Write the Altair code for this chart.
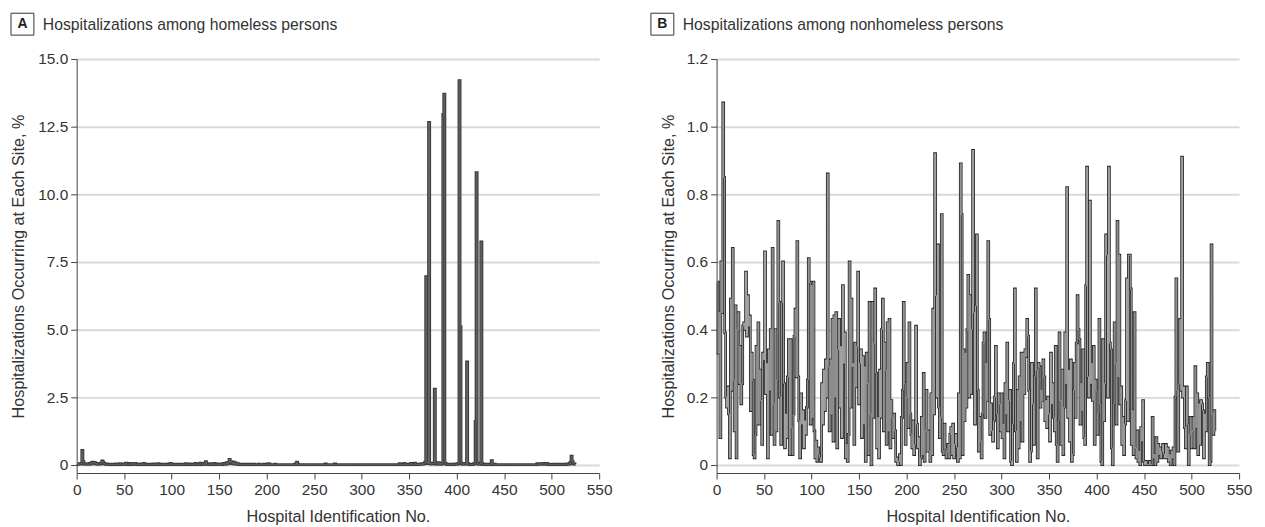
import altair as alt
import pandas as pd

FONT = "Liberation Sans"

hospital_ids = list(range(1, 526))

# Panel A: % of homeless-person hospitalizations at each site
homeless_pct = [
    0.03, 0.02, 0.04, 0.03, 0.05, 0.53, 0.12, 0.04, 0.03, 0.02, 0.04, 0.03, 0.02, 0.05, 0.03, 0.08, 0.10, 0.06, 0.09, 0.04, 0.03, 0.05, 0.02, 0.03, 0.04,
    0.06, 0.14, 0.10, 0.05, 0.03, 0.02, 0.03, 0.02, 0.01, 0.02, 0.02, 0.01, 0.02, 0.02, 0.01, 0.02, 0.03, 0.02, 0.01, 0.02, 0.04, 0.02, 0.01, 0.02, 0.02,
    0.03, 0.06, 0.02, 0.01, 0.02, 0.05, 0.02, 0.01, 0.04, 0.02, 0.02, 0.05, 0.02, 0.01, 0.02, 0.01, 0.02, 0.03, 0.02, 0.01, 0.05, 0.02, 0.01, 0.02, 0.01,
    0.02, 0.01, 0.02, 0.01, 0.02, 0.03, 0.01, 0.02, 0.01, 0.02, 0.04, 0.02, 0.01, 0.02, 0.01, 0.02, 0.01, 0.02, 0.01, 0.02, 0.01, 0.03, 0.02, 0.05, 0.02,
    0.01, 0.02, 0.01, 0.02, 0.01, 0.02, 0.01, 0.01, 0.02, 0.01, 0.02, 0.01, 0.02, 0.01, 0.04, 0.02, 0.01, 0.02, 0.03, 0.02, 0.01, 0.02, 0.01, 0.02, 0.05,
    0.02, 0.01, 0.02, 0.03, 0.06, 0.02, 0.01, 0.05, 0.02, 0.04, 0.12, 0.03, 0.02, 0.01, 0.04, 0.02, 0.01, 0.02, 0.03, 0.05, 0.02, 0.01, 0.02, 0.03, 0.02,
    0.03, 0.02, 0.01, 0.02, 0.05, 0.02, 0.03, 0.08, 0.04, 0.06, 0.20, 0.09, 0.12, 0.05, 0.04, 0.10, 0.03, 0.06, 0.02, 0.04, 0.02, 0.01, 0.02, 0.01, 0.02,
    0.01, 0.02, 0.01, 0.01, 0.02, 0.01, 0.01, 0.02, 0.01, 0.01, 0.01, 0.02, 0.01, 0.01, 0.01, 0.01, 0.02, 0.01, 0.01, 0.01, 0.01, 0.02, 0.01, 0.01, 0.01,
    0.02, 0.04, 0.02, 0.01, 0.01, 0.01, 0.01, 0.01, 0.02, 0.01, 0.01, 0.01, 0.01, 0.01, 0.01, 0.01, 0.01, 0.01, 0.01, 0.01, 0.01, 0.01, 0.01, 0.01, 0.01,
    0.01, 0.01, 0.01, 0.01, 0.02, 0.03, 0.10, 0.02, 0.01, 0.01, 0.01, 0.01, 0.01, 0.01, 0.01, 0.01, 0.01, 0.01, 0.01, 0.01, 0.01, 0.01, 0.01, 0.01, 0.01,
    0.01, 0.01, 0.01, 0.01, 0.01, 0.01, 0.01, 0.01, 0.01, 0.01, 0.01, 0.03, 0.01, 0.01, 0.01, 0.01, 0.01, 0.01, 0.01, 0.01, 0.01, 0.03, 0.01, 0.01, 0.01,
    0.01, 0.01, 0.01, 0.01, 0.01, 0.01, 0.01, 0.01, 0.01, 0.01, 0.01, 0.01, 0.01, 0.01, 0.01, 0.01, 0.01, 0.01, 0.01, 0.01, 0.01, 0.01, 0.01, 0.01, 0.01,
    0.01, 0.01, 0.01, 0.01, 0.01, 0.01, 0.01, 0.01, 0.01, 0.01, 0.01, 0.01, 0.01, 0.01, 0.01, 0.01, 0.01, 0.01, 0.01, 0.01, 0.01, 0.01, 0.01, 0.01, 0.01,
    0.01, 0.01, 0.01, 0.01, 0.01, 0.01, 0.01, 0.01, 0.01, 0.01, 0.01, 0.01, 0.01, 0.01, 0.04, 0.02, 0.01, 0.01, 0.01, 0.05, 0.02, 0.01, 0.01, 0.01, 0.02,
    0.02, 0.05, 0.02, 0.01, 0.02, 0.06, 0.02, 0.01, 0.02, 0.01, 0.02, 0.03, 0.02, 0.04, 0.03, 0.05, 0.10, 6.95, 0.08, 0.05, 12.65, 0.06, 0.03, 0.05, 0.04,
    0.06, 2.80, 0.05, 0.02, 0.04, 0.08, 0.03, 0.05, 0.02, 0.06, 12.95, 13.70, 0.06, 0.03, 0.02, 0.01, 0.02, 0.01, 0.02, 0.01, 0.02, 0.01, 0.02, 0.03, 0.02,
    0.03, 0.05, 14.20, 5.10, 0.06, 0.03, 0.02, 0.04, 0.03, 0.05, 3.80, 0.04, 0.02, 0.01, 0.02, 0.01, 0.02, 0.03, 0.05, 1.60, 10.80, 0.06, 0.03, 0.02, 0.04,
    8.24, 0.05, 0.02, 0.01, 0.02, 0.01, 0.02, 0.01, 0.02, 0.01, 0.03, 0.15, 0.02, 0.01, 0.02, 0.01, 0.01, 0.01, 0.01, 0.01, 0.01, 0.01, 0.01, 0.01, 0.01,
    0.01, 0.01, 0.01, 0.01, 0.01, 0.01, 0.01, 0.01, 0.01, 0.01, 0.01, 0.01, 0.01, 0.01, 0.01, 0.01, 0.01, 0.01, 0.01, 0.01, 0.01, 0.01, 0.01, 0.01, 0.01,
    0.01, 0.01, 0.01, 0.01, 0.01, 0.01, 0.01, 0.01, 0.01, 0.04, 0.03, 0.02, 0.04, 0.03, 0.02, 0.05, 0.03, 0.02, 0.04, 0.05, 0.02, 0.01, 0.02, 0.01, 0.02,
    0.01, 0.02, 0.01, 0.02, 0.01, 0.02, 0.01, 0.02, 0.01, 0.02, 0.01, 0.02, 0.01, 0.02, 0.01, 0.02, 0.03, 0.02, 0.05, 0.10, 0.32, 0.12, 0.04, 0.03, 0.02,
]

# Panel B: % of nonhomeless-person hospitalizations at each site
nonhomeless_pct = [
    0.54, 0.33, 0.45, 0.08, 0.60, 0.45, 1.07, 0.85, 0.39, 0.20,
    0.17, 0.23, 0.15, 0.02, 0.49, 0.22, 0.64, 0.25, 0.10, 0.47,
    0.02, 0.40, 0.45, 0.24, 0.35, 0.18, 0.24, 0.41, 0.42, 0.40,
    0.57, 0.38, 0.50, 0.41, 0.44, 0.16, 0.33, 0.25, 0.03, 0.02,
    0.09, 0.35, 0.12, 0.42, 0.12, 0.28, 0.19, 0.06, 0.33, 0.31,
    0.63, 0.21, 0.30, 0.02, 0.34, 0.22, 0.40, 0.09, 0.64, 0.18,
    0.06, 0.40, 0.10, 0.25, 0.72, 0.48, 0.20, 0.06, 0.48, 0.60,
    0.24, 0.05, 0.15, 0.08, 0.26, 0.37, 0.03, 0.37, 0.11, 0.03,
    0.15, 0.38, 0.46, 0.26, 0.66, 0.26, 0.13, 0.02, 0.21, 0.12,
    0.16, 0.05, 0.13, 0.09, 0.17, 0.25, 0.61, 0.54, 0.12, 0.53,
    0.14, 0.54, 0.10, 0.02, 0.07, 0.01, 0.05, 0.03, 0.02, 0.01,
    0.24, 0.12, 0.28, 0.16, 0.31, 0.20, 0.86, 0.29, 0.10, 0.31,
    0.15, 0.43, 0.07, 0.44, 0.20, 0.45, 0.05, 0.34, 0.43, 0.17,
    0.35, 0.08, 0.53, 0.30, 0.39, 0.02, 0.06, 0.01, 0.09, 0.60,
    0.17, 0.49, 0.29, 0.30, 0.06, 0.36, 0.23, 0.35, 0.57, 0.18,
    0.30, 0.34, 0.08, 0.32, 0.12, 0.29, 0.01, 0.33, 0.24, 0.03,
    0.48, 0.15, 0.00, 0.48, 0.14, 0.36, 0.52, 0.27, 0.05, 0.14,
    0.02, 0.28, 0.14, 0.40, 0.49, 0.10, 0.36, 0.28, 0.06, 0.42,
    0.10, 0.43, 0.05, 0.19, 0.14, 0.08, 0.15, 0.10, 0.01, 0.02,
    0.00, 0.01, 0.03, 0.00, 0.14, 0.22, 0.48, 0.24, 0.06, 0.20,
    0.30, 0.11, 0.42, 0.15, 0.09, 0.05, 0.13, 0.03, 0.06, 0.41,
    0.12, 0.05, 0.08, 0.00, 0.02, 0.14, 0.03, 0.27, 0.01, 0.10,
    0.22, 0.04, 0.10, 0.04, 0.01, 0.21, 0.03, 0.46, 0.15, 0.92,
    0.50, 0.20, 0.65, 0.17, 0.08, 0.14, 0.74, 0.04, 0.03, 0.12,
    0.05, 0.02, 0.04, 0.06, 0.02, 0.09, 0.11, 0.03, 0.12, 0.02,
    0.06, 0.09, 0.05, 0.01, 0.21, 0.02, 0.89, 0.74, 0.03, 0.34,
    0.13, 0.33, 0.17, 0.40, 0.56, 0.20, 0.50, 0.21, 0.40, 0.93,
    0.45, 0.12, 0.47, 0.68, 0.22, 0.04, 0.14, 0.07, 0.02, 0.15,
    0.36, 0.39, 0.14, 0.30, 0.19, 0.66, 0.43, 0.09, 0.18, 0.10,
    0.07, 0.13, 0.20, 0.35, 0.15, 0.05, 0.21, 0.18, 0.10, 0.21,
    0.08, 0.12, 0.02, 0.24, 0.15, 0.36, 0.10, 0.19, 0.22, 0.01,
    0.00, 0.12, 0.30, 0.52, 0.10, 0.01, 0.22, 0.05, 0.26, 0.13,
    0.33, 0.07, 0.33, 0.21, 0.34, 0.32, 0.43, 0.38, 0.22, 0.01,
    0.04, 0.30, 0.18, 0.06, 0.26, 0.52, 0.28, 0.02, 0.30, 0.29,
    0.17, 0.22, 0.19, 0.31, 0.26, 0.13, 0.19, 0.11, 0.20, 0.15,
    0.07, 0.33, 0.18, 0.24, 0.14, 0.10, 0.35, 0.06, 0.01, 0.13,
    0.39, 0.19, 0.06, 0.28, 0.03, 0.17, 0.39, 0.24, 0.82, 0.14,
    0.28, 0.07, 0.31, 0.01, 0.03, 0.22, 0.30, 0.14, 0.36, 0.50,
    0.40, 0.37, 0.12, 0.24, 0.16, 0.34, 0.08, 0.06, 0.53, 0.88,
    0.26, 0.20, 0.78, 0.24, 0.30, 0.19, 0.35, 0.06, 0.25, 0.22,
    0.09, 0.15, 0.43, 0.18, 0.01, 0.00, 0.37, 0.13, 0.24, 0.68,
    0.62, 0.20, 0.88, 0.36, 0.34, 0.05, 0.00, 0.18, 0.42, 0.30,
    0.12, 0.72, 0.26, 0.62, 0.18, 0.23, 0.06, 0.14, 0.03, 0.12,
    0.19, 0.55, 0.13, 0.62, 0.62, 0.52, 0.06, 0.16, 0.03, 0.45,
    0.05, 0.02, 0.10, 0.01, 0.04, 0.00, 0.11, 0.07, 0.19, 0.01,
    0.00, 0.01, 0.00, 0.00, 0.00, 0.01, 0.00, 0.00, 0.14, 0.02,
    0.03, 0.00, 0.08, 0.01, 0.06, 0.03, 0.05, 0.02, 0.04, 0.06,
    0.03, 0.02, 0.06, 0.02, 0.05, 0.01, 0.03, 0.00, 0.04, 0.02,
    0.05, 0.00, 0.20, 0.55, 0.22, 0.04, 0.24, 0.43, 0.22, 0.91,
    0.20, 0.23, 0.11, 0.05, 0.23, 0.12, 0.00, 0.09, 0.14, 0.05,
    0.10, 0.14, 0.05, 0.29, 0.11, 0.21, 0.03, 0.18, 0.06, 0.19,
    0.18, 0.16, 0.02, 0.15, 0.10, 0.26, 0.30, 0.20, 0.00, 0.01,
    0.65, 0.15, 0.09, 0.16, 0.10,
]

x_ticks = list(range(0, 551, 50))
yA_ticks = [0, 2.5, 5, 7.5, 10, 12.5, 15]
yB_ticks = [0, 0.2, 0.4, 0.6, 0.8, 1.0, 1.2]

PLOT_W = 525
PLOT_H = 416


def panel(values, letter, title, ydom, yticks, title_x, outer_color, outer_w, inner_color, inner_w):
    df = pd.DataFrame({"id": hospital_ids, "v": values})
    x = alt.X(
        "id:Q",
        scale=alt.Scale(domain=[0, 550], nice=False, zero=False),
        axis=alt.Axis(values=x_ticks, title="Hospital Identification No.", grid=False,
                      tickSize=6, labelPadding=4, titlePadding=10, labelFlush=False),
    )
    y = alt.Y(
        "v:Q",
        scale=alt.Scale(domain=ydom, nice=False, zero=False),
        axis=alt.Axis(values=yticks,
                      labelExpr="datum.value == 0 ? '0' : format(datum.value, '.1f')",
                      title="Hospitalizations Occurring at Each Site, %",
                      grid=True, gridColor="#d9d9d9", gridWidth=2,
                      tickSize=6, labelPadding=3,
                      titleX=title_x, titleY=PLOT_H / 2, titleBaseline="middle"),
    )
    outer = alt.Chart(df).mark_line(interpolate="step", color=outer_color, strokeWidth=outer_w).encode(x=x, y=y)
    inner = alt.Chart(df).mark_line(interpolate="step", color=inner_color, strokeWidth=inner_w).encode(x="id:Q", y="v:Q")
    one = pd.DataFrame({"k": [0]})
    box = alt.Chart(one).mark_rect(fill="white", stroke="#333333", strokeWidth=1).encode(
        x=alt.value(-66), x2=alt.value(-43), y=alt.value(-46), y2=alt.value(-24))
    let = alt.Chart(one).mark_text(font=FONT, fontSize=14, fontWeight="bold", color="#222222",
                                   align="center", baseline="middle").encode(
        x=alt.value(-54.5), y=alt.value(-35), text=alt.value(letter))
    ttl = alt.Chart(one).mark_text(font=FONT, fontSize=15.8, color="#333333",
                                   align="left", baseline="alphabetic").encode(
        x=alt.value(-34), y=alt.value(-29.5), text=alt.value(title))
    return alt.layer(outer, inner, box, let, ttl).properties(width=PLOT_W, height=PLOT_H)


panel_a = panel(homeless_pct, "A", "Hospitalizations among homeless persons",
                [-0.3, 15.0], yA_ticks, -58, "#3a3a3a", 3.0, "#666666", 1.0)
panel_b = panel(nonhomeless_pct, "B", "Hospitalizations among nonhomeless persons",
                [-0.0245, 1.2], yB_ticks, -48, "#262626", 2.7, "#b4b4b4", 0.9)

chart = (
    alt.hconcat(panel_a, panel_b, spacing=38)
    .properties(padding={"left": 2, "top": 3, "right": 5, "bottom": 0})
    .configure_view(stroke=None)
    .configure_axis(labelFont=FONT, titleFont=FONT, labelFontSize=15.5, titleFontSize=16.3,
                    labelColor="#333333", titleColor="#333333", titleFontWeight="normal",
                    domainColor="#444444", tickColor="#444444")
)

chart.save("out.html", embed_options={"renderer": "svg", "actions": False})
